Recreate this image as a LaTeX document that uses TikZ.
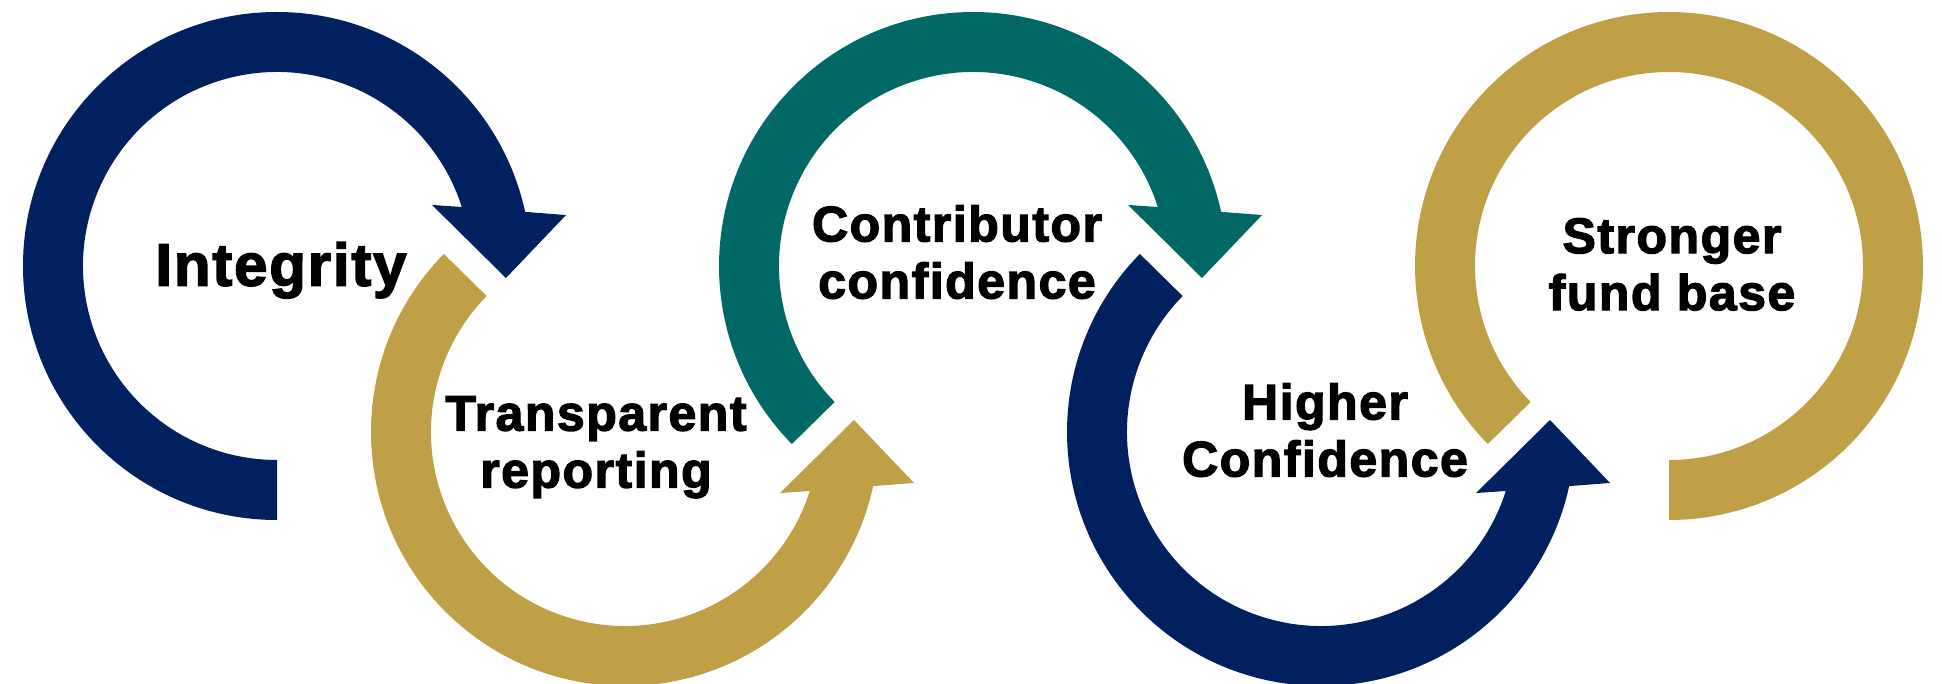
\documentclass[tikz,border=0pt]{standalone}
\usepackage{fontspec}
\setmainfont{Liberation Sans}[BoldFeatures={FakeBold=2.5,LetterSpace=3}]
\definecolor{navy}{HTML}{002060}
\definecolor{gold}{HTML}{BFA046}
\definecolor{ringteal}{HTML}{026865}
\tikzset{
    ring/.style={fill=#1, draw=none},
    steptext/.style={font=\fontsize{50}{57}\selectfont\bfseries, align=center, inner sep=0pt, anchor=north}
}

\begin{document}
\begin{tikzpicture}[x=1pt,y=1pt]
    \useasboundingbox (0,0) rectangle (1942,683);
    \coordinate (c1) at (277,417);
    \coordinate (c2) at (625,251);
    \coordinate (c3) at (973,417);
    \coordinate (c4) at (1321,251);
    \coordinate (c5) at (1669,417);

    % top rings: head points down
    \fill[ring=navy, shift={(c1)}] (270:254) arc[start angle=270, end angle=12.3, radius=254]
        -- (10:293.5) -- (-3:229.3) -- (21.5:166.6) -- (17.7:194)
        arc[start angle=17.7, end angle=270, radius=194] -- cycle;
    \fill[ring=ringteal, shift={(c3)}] (224.5:254) arc[start angle=224.5, end angle=12.3, radius=254]
        -- (10:293.5) -- (-3:229.3) -- (21.5:166.6) -- (17.7:194)
        arc[start angle=17.7, end angle=224.5, radius=194] -- cycle;

    % bottom rings: head points up
    \fill[ring=gold, shift={(c2)}] (135.5:254) arc[start angle=135.5, end angle=347.7, radius=254]
        -- (350:293.5) -- (3:229.3) -- (338.5:166.6) -- (342.3:194)
        arc[start angle=342.3, end angle=135.5, radius=194] -- cycle;
    \fill[ring=navy, shift={(c4)}] (135.5:254) arc[start angle=135.5, end angle=347.7, radius=254]
        -- (350:293.5) -- (3:229.3) -- (338.5:166.6) -- (342.3:194)
        arc[start angle=342.3, end angle=135.5, radius=194] -- cycle;

    % last ring, no head
    \fill[ring=gold, shift={(c5)}] (224.5:254) arc[start angle=224.5, end angle=-90, radius=254]
        -- (-90:194) arc[start angle=-90, end angle=224.5, radius=194] -- cycle;

    \node[steptext, font=\fontsize{60}{66}\selectfont\bfseries] (integrity) at (281,441) {Integrity};
    \node[steptext] (transparent) at (596,287) {Transparent\\reporting};
    \node[steptext] (contributor) at (957,478) {Contributor\\confidence};
    \node[steptext] (higher)      at (1325,300) {Higher\\Confidence};
    \node[steptext] (stronger)    at (1672,465) {Stronger\\fund base};
\end{tikzpicture}
\end{document}
